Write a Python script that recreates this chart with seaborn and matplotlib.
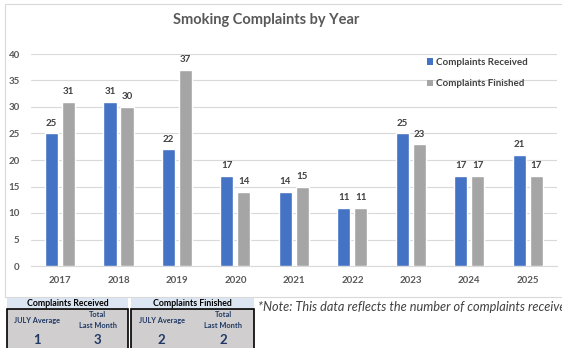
import matplotlib
matplotlib.use("Agg")
import matplotlib.pyplot as plt
from matplotlib.patches import Rectangle, Patch
import seaborn as sns
import pandas as pd

years = ["2017", "2018", "2019", "2020", "2021", "2022", "2023", "2024", "2025"]
received = [25, 31, 22, 17, 14, 11, 25, 17, 21]
finished = [31, 30, 37, 14, 15, 11, 23, 17, 17]
series_names = ["Complaints Received", "Complaints Finished"]
y_ticks = [0, 5, 10, 15, 20, 25, 30, 35, 40]
title = "Smoking Complaints by Year"
table_headers = ["Complaints Received", "Complaints Finished"]
table_cols = ["JULY Average", "Total\nLast Month"]
table_values = [[1, 3], [2, 2]]
note = "*Note: This data reflects the number of complaints received and finished each year."

BLUE = "#4472C4"
GRAY = "#A5A5A5"
TXT = "#595959"
LBL = "#404040"

sns.set_theme(style="white")
plt.rcParams["font.family"] = ["Lato", "DejaVu Sans"]

W, H = 562, 348
fig = plt.figure(figsize=(W / 100, H / 100), dpi=100)
fig.patch.set_facecolor("white")

def fx(x):
    return x / W

def fy(y):
    return 1 - y / H

# chart area border
fig.patches.append(Rectangle((fx(5), fy(297)), fx(570) - fx(5), fy(4) - fy(297),
                             transform=fig.transFigure, fill=False,
                             edgecolor="#d9d9d9", linewidth=0.8))

ax = fig.add_axes([fx(30.8), fy(266), fx(557) - fx(30.8), fy(54) - fy(266)])

df = pd.DataFrame({
    "year": years * 2,
    "value": received + finished,
    "series": [series_names[0]] * len(years) + [series_names[1]] * len(years),
})

sns.barplot(data=df, x="year", y="value", hue="series", order=years,
            hue_order=series_names, palette=[BLUE, GRAY], width=0.58, gap=0.23,
            saturation=1, ax=ax, legend=False, zorder=3)

for cont in ax.containers:
    ax.bar_label(cont, fmt="%d", padding=4, fontsize=7, fontweight="bold",
                 color=LBL, clip_on=False)

ax.set_ylim(0, 40)
ax.set_yticks(y_ticks)
ax.set_xlim(-0.5, len(years) - 0.5)
ax.grid(axis="y", color="#d9d9d9", linewidth=0.8, zorder=0)
for s in ["top", "right", "left"]:
    ax.spines[s].set_visible(False)
ax.spines["bottom"].set_color("#d9d9d9")
ax.spines["bottom"].set_linewidth(0.8)
ax.set_xlabel("")
ax.set_ylabel("")
ax.tick_params(axis="x", length=0, pad=7, labelsize=7, labelcolor=TXT)
ax.tick_params(axis="y", length=0, pad=8, labelsize=7, labelcolor=TXT)
for t in ax.get_xticklabels() + ax.get_yticklabels():
    t.set_fontweight("bold")

handles = [Patch(facecolor=BLUE, edgecolor="none"), Patch(facecolor=GRAY, edgecolor="none")]
leg = ax.legend(handles, series_names, loc="upper left",
                bbox_to_anchor=(fx(427), fy(58)), bbox_transform=fig.transFigure,
                frameon=False, fontsize=7, handlelength=0.6, handleheight=0.6,
                handletextpad=0.3, labelspacing=1.25, borderaxespad=0, borderpad=0)
for t in leg.get_texts():
    t.set_fontweight("bold")
    t.set_color(LBL)

fig.text(fx(266), fy(20), title, ha="center", va="center", fontsize=10.5,
         fontweight="bold", color=TXT)

# summary tables
boxes = [(7, 128), (131, 254)]
for (x0, x1), header, vals in zip(boxes, table_headers, table_values):
    fig.patches.append(Rectangle((fx(x0), fy(308)), fx(x1) - fx(x0), fy(298) - fy(308),
                                 transform=fig.transFigure, facecolor="#DCE6F2",
                                 edgecolor="none"))
    fig.text(fx((x0 + x1) / 2), fy(303), header, ha="center", va="center",
             fontsize=6.3, fontweight="bold", color="black")
    fig.patches.append(Rectangle((fx(x0), fy(350)), fx(x1) - fx(x0), fy(308.5) - fy(350),
                                 transform=fig.transFigure, facecolor="#D0CECE",
                                 edgecolor="black", linewidth=1.2))
    cw = (x1 - x0) / 2
    for i, (col, v) in enumerate(zip(table_cols, vals)):
        cx = x0 + cw * (i + 0.5)
        fig.text(fx(cx), fy(320), col, ha="center", va="center", fontsize=5.3,
                 fontweight="bold", color="#1F3864", linespacing=1.6)
        fig.text(fx(cx), fy(340), str(v), ha="center", va="center", fontsize=9.5,
                 fontweight="bold", color="#1F3864")

fig.text(fx(258), fy(307), note, ha="left", va="center", fontsize=9.2,
         style="italic", color=LBL)

fig.savefig("out.png", dpi=100)
